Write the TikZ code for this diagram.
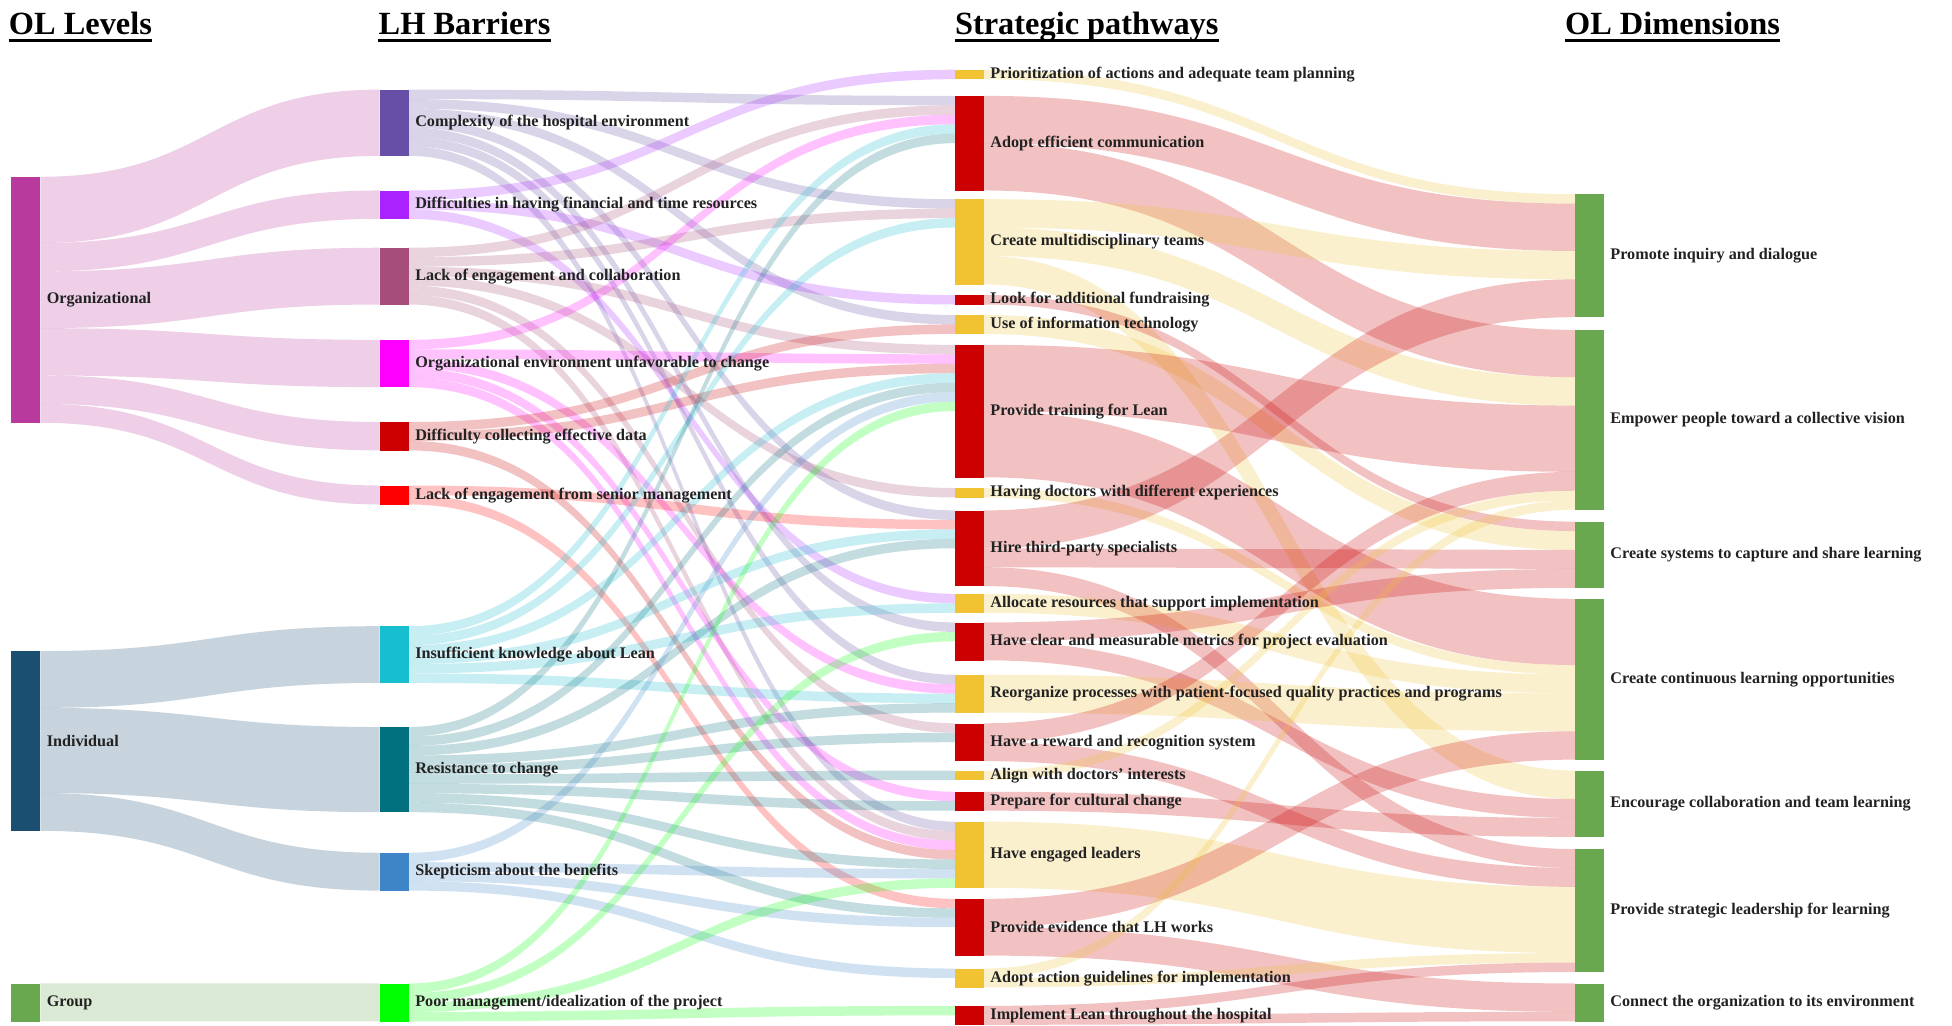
\documentclass[tikz,border=0pt]{standalone}
\usepackage{fontspec}
\setmainfont{Liberation Serif}
\usetikzlibrary{calc}

\pgfdeclarelayer{paper}
\pgfdeclarelayer{flows}
\pgfsetlayers{paper,flows,main}

% node colours
\definecolor{orgc}{HTML}{B83A9C}
\definecolor{indc}{HTML}{1B4F72}
\definecolor{grpc}{HTML}{6AA84F}
\definecolor{cplxc}{HTML}{674EA7}
\definecolor{dfinc}{HTML}{AA22FF}
\definecolor{lackc}{HTML}{A64D79}
\definecolor{oenvc}{HTML}{FF00FF}
\definecolor{datac}{HTML}{CC0000}
\definecolor{senc}{HTML}{FF0000}
\definecolor{inskc}{HTML}{17BECF}
\definecolor{resc}{HTML}{00707F}
\definecolor{skepc}{HTML}{3D85C6}
\definecolor{poorc}{HTML}{00FF00}
\definecolor{pathred}{HTML}{CC0000}
\definecolor{pathyel}{HTML}{F1C232}
\definecolor{dimc}{HTML}{6AA84F}
\definecolor{labc}{HTML}{222222}

\newcommand\skunit{7.6}

\tikzset{
  bar/.style={rectangle, draw=none, inner sep=0pt, minimum width=23pt, anchor=north west},
  lab/.style={anchor=west, inner sep=0pt, text=labc, font=\bfseries\fontsize{13}{13}\selectfont},
  heading/.style={anchor=base west, inner sep=0pt, text=black, font=\bfseries\fontsize{26}{26}\selectfont},
  uline/.style={line width=2.4pt, black},
  flow/.style={draw=none, fill opacity=0.24},
}

% a bar with its label; also resets the running offsets of its flows
\newcommand\skbar[6]{%
  \node[bar, fill=#5, minimum height={#4*\skunit*1pt}] (#1) at (#2,#3) {};
  \node[lab] (#1-lab) at ([xshift=5pt]#1.east) {#6};
  \expandafter\gdef\csname skout#1\endcsname{0}%
  \expandafter\gdef\csname skin#1\endcsname{0}%
}

% a flow band from the right side of #1 to the left side of #2, #3 units thick
\newcommand\sklink[4]{%
  \pgfmathsetmacro\skw{#3*\skunit}%
  \edef\sks{\csname skout#1\endcsname}%
  \edef\skt{\csname skin#2\endcsname}%
  \begin{pgfonlayer}{flows}
  \fill[flow, fill=#4] let \p1=(#1.north east), \p2=(#2.north west), \n1={(\x1+\x2)/2} in
    ({\x1},{\y1-\sks pt}) .. controls ({\n1},{\y1-\sks pt}) and ({\n1},{\y2-\skt pt}) .. ({\x2},{\y2-\skt pt})
    -- ({\x2},{\y2-\skt pt-\skw pt}) .. controls ({\n1},{\y2-\skt pt-\skw pt}) and ({\n1},{\y1-\sks pt-\skw pt}) .. ({\x1},{\y1-\sks pt-\skw pt})
    -- cycle;
  \end{pgfonlayer}
  \pgfmathsetmacro\sknew{\sks+\skw}\expandafter\xdef\csname skout#1\endcsname{\sknew}%
  \pgfmathsetmacro\sknew{\skt+\skw}\expandafter\xdef\csname skin#2\endcsname{\sknew}%
}

\begin{document}
\begin{tikzpicture}[x=1pt,y=-1pt]
\begin{pgfonlayer}{paper}
\fill[white] (0,0) rectangle (1568,824);
\end{pgfonlayer}
\useasboundingbox (0,0) rectangle (1568,824);

% column headings
\node[heading] (h1) at (7,28) {OL Levels};
\node[heading] (h2) at (304,28) {LH Barriers};
\node[heading] (h3) at (767,28) {Strategic pathways};
\node[heading] (h4) at (1257,28) {OL Dimensions};
\foreach \h in {h1,h2,h3,h4}
  \draw[uline] ([yshift=-4.5pt]\h.base west) -- ([yshift=-4.5pt]\h.base east);

% OL levels
\skbar{org}{9}{142}{26}{orgc}{Organizational}
\skbar{ind}{9}{523}{19}{indc}{Individual}
\skbar{grp}{9}{790}{4}{grpc}{Group}

% LH barriers
\skbar{cplx}{305}{72}{7}{cplxc}{Complexity of the hospital environment}
\skbar{dfin}{305}{153}{3}{dfinc}{Difficulties in having financial and time resources}
\skbar{lack}{305}{199}{6}{lackc}{Lack of engagement and collaboration}
\skbar{oenv}{305}{273}{5}{oenvc}{Organizational environment unfavorable to change}
\skbar{data}{305}{339}{3}{datac}{Difficulty collecting effective data}
\skbar{senior}{305}{390}{2}{senc}{Lack of engagement from senior management}
\skbar{insk}{305}{503}{6}{inskc}{Insufficient knowledge about Lean}
\skbar{resist}{305}{584}{9}{resc}{Resistance to change}
\skbar{skept}{305}{685}{4}{skepc}{Skepticism about the benefits}
\skbar{poor}{305}{790}{4}{poorc}{Poor management/idealization of the project}

% strategic pathways
\skbar{prior}{767}{56}{1}{pathyel}{Prioritization of actions and adequate team planning}
\skbar{adopt}{767}{77}{10}{pathred}{Adopt efficient communication}
\skbar{multi}{767}{160}{9}{pathyel}{Create multidisciplinary teams}
\skbar{fund}{767}{237}{1}{pathred}{Look for additional fundraising}
\skbar{useit}{767}{253}{2}{pathyel}{Use of information technology}
\skbar{train}{767}{277}{14}{pathred}{Provide training for Lean}
\skbar{havdoc}{767}{392}{1}{pathyel}{Having doctors with different experiences}
\skbar{hire}{767}{410}{8}{pathred}{Hire third-party specialists}
\skbar{alloc}{767}{477}{2}{pathyel}{Allocate resources that support implementation}
\skbar{metric}{767}{500}{4}{pathred}{Have clear and measurable metrics for project evaluation}
\skbar{reorg}{767}{542}{4}{pathyel}{Reorganize processes with patient-focused quality practices and programs}
\skbar{reward}{767}{581}{4}{pathred}{Have a reward and recognition system}
\skbar{align}{767}{619}{1}{pathyel}{Align with doctors' interests}
\skbar{prepare}{767}{636}{2}{pathred}{Prepare for cultural change}
\skbar{engaged}{767}{660}{7}{pathyel}{Have engaged leaders}
\skbar{evid}{767}{722}{6}{pathred}{Provide evidence that LH works}
\skbar{action}{767}{778}{2}{pathyel}{Adopt action guidelines for implementation}
\skbar{implem}{767}{808}{2}{pathred}{Implement Lean throughout the hospital}

% OL dimensions
\skbar{promote}{1265}{156}{13}{dimc}{Promote inquiry and dialogue}
\skbar{empower}{1265}{265}{19}{dimc}{Empower people toward a collective vision}
\skbar{csys}{1265}{419}{7}{dimc}{Create systems to capture and share learning}
\skbar{contin}{1265}{481}{17}{dimc}{Create continuous learning opportunities}
\skbar{encour}{1265}{619}{7}{dimc}{Encourage collaboration and team learning}
\skbar{strat}{1265}{682}{13}{dimc}{Provide strategic leadership for learning}
\skbar{connect}{1265}{790}{4}{dimc}{Connect the organization to its environment}

% levels -> barriers
\sklink{org}{cplx}{7}{orgc}
\sklink{org}{dfin}{3}{orgc}
\sklink{org}{lack}{6}{orgc}
\sklink{org}{oenv}{5}{orgc}
\sklink{org}{data}{3}{orgc}
\sklink{org}{senior}{2}{orgc}
\sklink{ind}{insk}{6}{indc}
\sklink{ind}{resist}{9}{indc}
\sklink{ind}{skept}{4}{indc}
\sklink{grp}{poor}{4}{grpc}

% barriers -> pathways
\foreach \t in {adopt,multi,useit,hire,metric,reorg,engaged} {\sklink{cplx}{\t}{1}{cplxc}}
\foreach \t in {prior,fund,alloc} {\sklink{dfin}{\t}{1}{dfinc}}
\foreach \t in {adopt,multi,train,havdoc,reward,engaged} {\sklink{lack}{\t}{1}{lackc}}
\foreach \t in {adopt,train,reorg,prepare,engaged} {\sklink{oenv}{\t}{1}{oenvc}}
\foreach \t in {useit,train,engaged} {\sklink{data}{\t}{1}{datac}}
\foreach \t in {hire,evid} {\sklink{senior}{\t}{1}{senc}}
\foreach \t in {adopt,multi,train,hire,alloc,reorg} {\sklink{insk}{\t}{1}{inskc}}
\foreach \t in {adopt,train,hire,reorg,reward,align,prepare,engaged,evid} {\sklink{resist}{\t}{1}{resc}}
\foreach \t in {train,engaged,evid,action} {\sklink{skept}{\t}{1}{skepc}}
\foreach \t in {train,metric,engaged,implem} {\sklink{poor}{\t}{1}{poorc}}

% pathways -> dimensions
\sklink{prior}{promote}{1}{pathyel}
\sklink{adopt}{promote}{5}{pathred}
\sklink{adopt}{empower}{5}{pathred}
\sklink{multi}{promote}{3}{pathyel}
\sklink{multi}{empower}{3}{pathyel}
\sklink{multi}{encour}{3}{pathyel}
\sklink{fund}{csys}{1}{pathred}
\sklink{useit}{csys}{2}{pathyel}
\sklink{train}{empower}{7}{pathred}
\sklink{train}{contin}{7}{pathred}
\sklink{havdoc}{contin}{1}{pathyel}
\sklink{hire}{promote}{4}{pathred}
\sklink{hire}{csys}{2}{pathred}
\sklink{hire}{strat}{2}{pathred}
\sklink{alloc}{contin}{2}{pathyel}
\sklink{metric}{csys}{2}{pathred}
\sklink{metric}{encour}{2}{pathred}
\sklink{reorg}{contin}{4}{pathyel}
\sklink{reward}{empower}{2}{pathred}
\sklink{reward}{strat}{2}{pathred}
\sklink{align}{empower}{1}{pathyel}
\sklink{prepare}{encour}{2}{pathred}
\sklink{engaged}{strat}{7}{pathyel}
\sklink{evid}{contin}{3}{pathred}
\sklink{evid}{connect}{3}{pathred}
\sklink{action}{empower}{1}{pathyel}
\sklink{action}{strat}{1}{pathyel}
\sklink{implem}{strat}{1}{pathred}
\sklink{implem}{connect}{1}{pathred}
\end{tikzpicture}
\end{document}
